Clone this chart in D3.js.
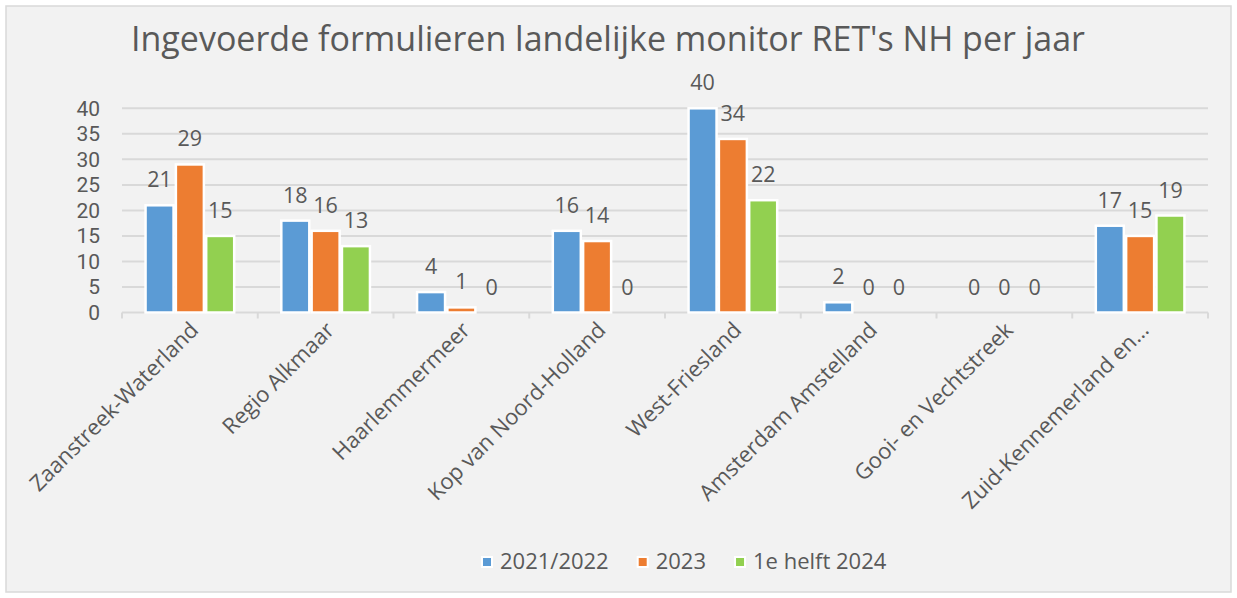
<!DOCTYPE html>
<html><head><meta charset="utf-8">
<script src="https://cdn.jsdelivr.net/npm/d3@7"></script>
<style>body{margin:0;background:#fff}svg{display:block}text{font-family:"Open Sans",sans-serif;fill:#595959}</style>
</head><body>
<svg id="c" width="1237" height="598"></svg>
<script>
const title = "Ingevoerde formulieren landelijke monitor RET's NH per jaar";
const categories = ["Zaanstreek-Waterland","Regio Alkmaar","Haarlemmermeer","Kop van Noord-Holland","West-Friesland","Amsterdam Amstelland","Gooi- en Vechtstreek","Zuid-Kennemerland en…"];
const seriesNames = ["2021/2022","2023","1e helft 2024"];
const values2122 = [21,18,4,16,40,2,0,17];
const values2023 = [29,16,1,14,34,0,0,15];
const valuesH2024 = [15,13,0,0,22,0,0,19];
const yTicks = [0,5,10,15,20,25,30,35,40];
const colors = ["#5B9BD5","#ED7D31","#92D050"];

const seriesValues = [values2122, values2023, valuesH2024];
const svg = d3.select("#c");
svg.append("rect").attr("x",0).attr("y",0).attr("width",1237).attr("height",598).attr("fill","#fff");
svg.append("rect").attr("x",6).attr("y",6).attr("width",1225).attr("height",586).attr("fill","#f2f2f2").attr("stroke","#d9d9d9").attr("stroke-width",1.5);

const L=122, R=1208, T=108.3, B=312.5;
const x0 = d3.scaleBand().domain(categories).range([L,R]).paddingInner(0.33).paddingOuter(0.165);
const x1 = d3.scaleBand().domain(seriesNames).range([0,x0.bandwidth()]);
const y = d3.scaleLinear().domain([0,40]).range([B,T]);

svg.append("text").attr("x",608).attr("y",51).attr("text-anchor","middle").style("font-size","34px").text(title);

// gridlines
svg.append("g").selectAll("line").data(yTicks.filter(d=>d>0)).join("line")
  .attr("x1",L).attr("x2",R).attr("y1",d=>y(d)).attr("y2",d=>y(d)).attr("stroke","#d9d9d9").attr("stroke-width",2);
// y axis labels
const ya = svg.append("g").attr("transform",`translate(${L},0)`).call(d3.axisLeft(y).tickValues(yTicks).tickSize(0).tickPadding(22));
ya.select(".domain").remove();
ya.selectAll("text").style("font-size","21px").style("font-family","Roboto,sans-serif").attr("fill","#595959");

// x axis
const step = x0.step();
const tickPos = d3.range(categories.length+1).map(i=>L+i*step);
svg.append("line").attr("x1",L).attr("x2",R).attr("y1",B).attr("y2",B).attr("stroke","#d9d9d9").attr("stroke-width",2);
svg.append("g").selectAll("line").data(tickPos).join("line")
  .attr("x1",d=>d).attr("x2",d=>d).attr("y1",B).attr("y2",B+6).attr("stroke","#d9d9d9").attr("stroke-width",2);

// bars
const bw = 28;
seriesNames.forEach((s,si)=>{
  const g = svg.append("g");
  const data = categories.map((c,i)=>({c,v:seriesValues[si][i]}));
  g.selectAll("rect").data(data.filter(d=>d.v>0)).join("rect")
    .attr("x",d=>x0(d.c)+x1(s)+x1.bandwidth()/2-bw/2)
    .attr("width",bw)
    .attr("y",d=>y(d.v))
    .attr("height",d=>y(0)-y(d.v))
    .attr("fill",colors[si]).attr("stroke","#fff").attr("stroke-width",2.5);
  g.selectAll("text").data(data).join("text")
    .attr("x",d=>x0(d.c)+x1(s)+x1.bandwidth()/2)
    .attr("y",d=>y(d.v)-18)
    .attr("text-anchor","middle").style("font-size","21.5px").text(d=>d.v);
});

// category labels
svg.append("g").selectAll("text").data(categories).join("text")
  .attr("transform",d=>`translate(${x0(d)+x0.bandwidth()/2+10},${B+19}) rotate(-45)`)
  .attr("text-anchor","end").style("font-size","22px").text(d=>d);

// legend
const lg = svg.append("g");
let lx = 482;
seriesNames.forEach((s,si)=>{
  lg.append("rect").attr("x",lx).attr("y",557).attr("width",10).attr("height",10).attr("fill",colors[si]).attr("stroke","#fff").attr("stroke-width",2);
  const t = lg.append("text").attr("x",lx+18).attr("y",569).style("font-size","22px").text(s);
  lx += 18 + t.node().getComputedTextLength() + 29;
});
</script>
</body></html>
